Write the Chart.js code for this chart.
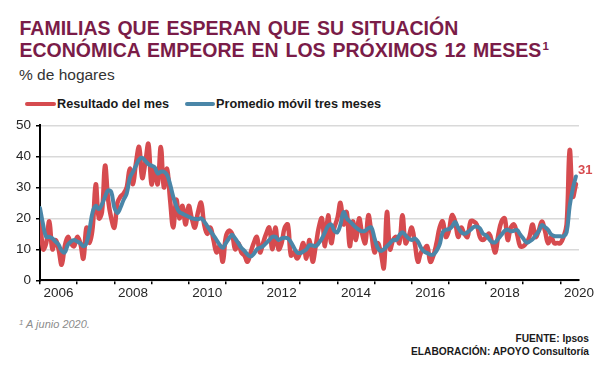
<!DOCTYPE html>
<html>
<head>
<meta charset="utf-8">
<script src="https://cdn.jsdelivr.net/npm/chart.js@4.4.1/dist/chart.umd.min.js"></script>
<style>
html,body{margin:0;padding:0;background:#fff;}
body{width:604px;height:379px;position:relative;overflow:hidden;font-family:"Liberation Sans",Arial,sans-serif;}
.t{position:absolute;white-space:nowrap;}
#title{left:19.5px;top:17px;font-size:19.5px;line-height:22px;font-weight:bold;color:#7A1C48;word-spacing:1.5px;}
#title .sup{font-size:11.5px;position:relative;top:-7px;margin-left:1px;}
#sub{left:19px;top:66px;font-size:15.5px;line-height:18px;color:#333;}
.leg{top:96px;font-size:12.7px;line-height:16px;font-weight:bold;color:#1a1a1a;}
.sw{position:absolute;height:4px;border-radius:2px;top:102px;}
#wrap{position:absolute;left:0;top:110px;width:604px;height:200px;}
#foot{left:19px;top:318px;font-size:11px;font-style:italic;color:#8c8c8c;}
.src{right:15px;font-size:10.2px;font-weight:bold;color:#1a1a1a;line-height:12px;text-align:right;}
</style>
</head>
<body>
<div id="title" class="t">FAMILIAS QUE ESPERAN QUE SU SITUACIÓN<br>ECONÓMICA EMPEORE EN LOS PRÓXIMOS 12 MESES<span class="sup">1</span></div>
<div id="sub" class="t">% de hogares</div>
<div class="sw" style="left:25px;width:31px;background:#D64B4F;"></div>
<div class="t leg" style="left:57px;">Resultado del mes</div>
<div class="sw" style="left:185px;width:30px;background:#4A86A8;"></div>
<div class="t leg" style="left:216px;">Promedio móvil tres meses</div>
<div id="wrap"><canvas id="c" width="604" height="200"></canvas></div>
<div id="foot" class="t"><span style="font-size:8px;position:relative;top:-3px;">1</span> A junio 2020.</div>
<div class="t src" style="top:333px;">FUENTE: Ipsos</div>
<div class="t src" style="top:346px;">ELABORACIÓN: APOYO Consultoría</div>
<script>
// Monthly data, January 2006 to June 2020
const startYear = 2006;
const resultadoMes = [
  21, 10, 12, 19, 10, 13, 10, 5, 11, 14, 12, 11,   // 2006
  14, 12, 7, 17, 12, 17, 31, 20, 22, 37, 26, 20,   // 2007
  17, 25, 27, 28, 30, 36, 31, 38, 43, 33, 38, 44,  // 2008
  31, 36, 31, 43, 30, 36, 26, 17, 26, 20, 24, 18,  // 2009
  24, 20, 17, 22, 25, 18, 15, 17, 13, 9, 11, 6,    // 2010
  14, 16, 15, 10, 12, 9, 8, 6, 9, 12, 14, 9,       // 2011
  12, 15, 17, 10, 17, 10, 12, 17, 18, 8, 9, 7,     // 2012
  9, 12, 7, 13, 6, 11, 17, 20, 11, 21, 12, 17,     // 2013
  20, 25, 18, 22, 11, 19, 13, 20, 15, 12, 21, 15,  // 2014
  9, 12, 9, 4, 22, 10, 13, 14, 12, 21, 12, 14,     // 2015
  17, 12, 6, 9, 10, 11, 6, 8, 12, 17, 19, 14,      // 2016
  16, 21, 19, 14, 17, 15, 14, 19, 19, 18, 14, 13,  // 2017
  14, 15, 12, 9, 15, 19, 20, 13, 17, 18, 15, 11,   // 2018
  11, 12, 14, 18, 14, 16, 19, 16, 12, 14, 12, 12,  // 2019
  12, 14, 18, 42, 27, 31                           // 2020
];
const promedioMovil = [
  23.3, 18, 14, 14, 13.5, 12.5, 11.5, 9.5, 9, 11.5, 12.5, 13,      // 2006
  12.5, 12, 11, 12, 16.5, 22, 24, 23, 24.5, 27, 29, 28.5,          // 2007
  23.5, 21.7, 23.5, 26, 28, 33, 35, 37, 39, 39.5, 38.5, 37.5,      // 2008
  37, 36.5, 34.5, 35, 35, 34, 31, 27, 24, 22, 21.5, 21,            // 2009
  20.5, 20, 19.8, 19.7, 20, 19, 17.5, 16, 14.5, 13, 11.5, 10.5,    // 2010
  12, 13.5, 14.7, 13.5, 12, 10.5, 9.5, 8.3, 7.7, 8.5, 10, 10.5,    // 2011
  11, 12, 13, 14, 14, 13, 13.5, 13.7, 13.5, 12.3, 10.5, 9,         // 2012
  8.8, 9.3, 10, 11.3, 11.2, 11, 12, 13.5, 15.5, 17.5, 18, 16,      // 2013
  15.5, 18, 22, 20, 19, 18, 17, 16.3, 15.8, 16, 16.8, 17,          // 2014
  13.5, 10.5, 9.5, 10, 11, 12, 13, 13, 14.5, 15.5, 14.5, 13.5,     // 2015
  13, 13.5, 12.5, 10.5, 9.3, 8.8, 8.3, 8.3, 9.5, 11.5, 15.5, 16.3, // 2016
  16.5, 17.3, 18.8, 17, 15.5, 15, 15.5, 16.3, 17.2, 17.3, 16.8, 15,// 2017
  14.5, 13.3, 12.3, 12.3, 13.5, 14.7, 16, 16.3, 15.8, 16, 16.2, 14.8, // 2018
  13.5, 12.2, 12.5, 13.2, 14.5, 15.8, 17.8, 17.2, 16.3, 14.8, 14.3, 14.2, // 2019
  14.2, 14.2, 15.5, 24, 29.5, 33.5                                 // 2020
];
const yearTicks = [2006,2007,2008,2009,2010,2011,2012,2013,2014,2015,2016,2017,2018,2019,2020];
const yearLabels = ['2006','2008','2010','2012','2014','2016','2018','2020'];
const yTicks = [0,10,20,30,40,50];
const lastLabel = '31';

const RED = '#D64B4F', BLUE = '#4A86A8';
const FONT = '"Liberation Sans", Arial, sans-serif';
const monthIdx = resultadoMes.map((_, i) => i);
const toXY = arr => arr.map((v, i) => ({x: monthIdx[i], y: v}));
const X_MAX = 174;
const PLOT_W = 539;

const endLabel = {
  id: 'endLabel',
  afterDatasetsDraw(chart) {
    const meta = chart.getDatasetMeta(1);
    const pt = meta.data[meta.data.length - 1];
    const ctx = chart.ctx;
    ctx.save();
    ctx.font = 'bold 13px ' + FONT;
    ctx.fillStyle = RED;
    ctx.textAlign = 'left';
    ctx.textBaseline = 'middle';
    ctx.fillText(lastLabel, pt.x + 2, pt.y - 14);
    ctx.restore();
  }
};

new Chart(document.getElementById('c'), {
  type: 'line',
  data: {
    datasets: [
      {label: 'Promedio móvil tres meses', data: toXY(promedioMovil), borderColor: BLUE, borderWidth: 4,
       pointRadius: 0, tension: 0.4, order: 1, borderCapStyle: 'round', borderJoinStyle: 'round'},
      {label: 'Resultado del mes', data: toXY(resultadoMes), borderColor: RED, borderWidth: 4.5,
       pointRadius: 0, tension: 0.4, order: 2, borderCapStyle: 'round', borderJoinStyle: 'round'}
    ]
  },
  options: {
    responsive: false,
    animation: false,
    devicePixelRatio: 1,
    layout: {padding: {top: 15.3, right: 25, left: 0, bottom: 0}},
    plugins: {legend: {display: false}, tooltip: {enabled: false}},
    scales: {
      x: {
        type: 'linear', min: 0, max: X_MAX,
        afterBuildTicks: s => { s.ticks = yearTicks.map(y => ({value: (y - startYear) * 12})); },
        afterFit: s => { s.height = 29.7; },
        ticks: {
          autoSkip: false, maxRotation: 0, minRotation: 0,
          labelOffset: 6 * PLOT_W / X_MAX, padding: 1,
          color: '#262626', font: {family: FONT, size: 13.5},
          callback: v => { const y = String(startYear + v / 12); return yearLabels.includes(y) ? y : ''; }
        },
        grid: {drawOnChartArea: false, drawTicks: true, tickLength: 4, tickColor: '#000', lineWidth: 1.5},
        border: {display: true, color: '#000', width: 2}
      },
      y: {
        min: 0, max: 50,
        afterBuildTicks: s => { s.ticks = yTicks.map(v => ({value: v})); },
        afterFit: s => { s.width = 40; },
        ticks: {padding: 5, color: '#262626', font: {family: FONT, size: 13.5}},
        grid: {color: '#d9d9d9', lineWidth: 1.5, drawTicks: true, tickLength: 4, tickColor: '#000'},
        border: {display: true, color: '#000', width: 2}
      }
    }
  },
  plugins: [endLabel]
});
</script>
</body>
</html>
